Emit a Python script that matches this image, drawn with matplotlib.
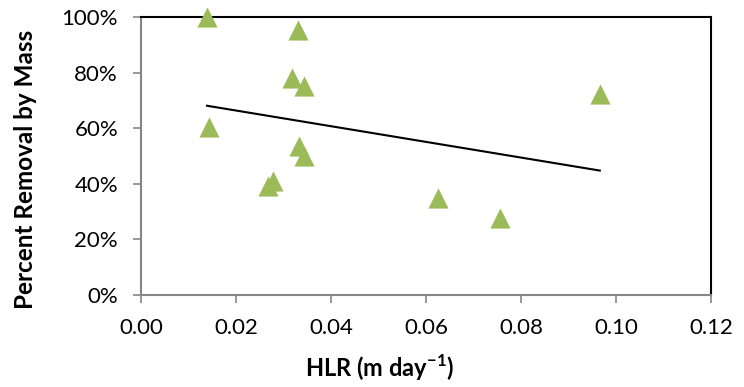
import numpy as np
import matplotlib.pyplot as plt
from matplotlib.ticker import PercentFormatter

# hydraulic loading rate (m/day) and percent removal by mass
hlr = [0.0139, 0.0331, 0.0318, 0.0343, 0.0143, 0.0333, 0.0343, 0.0278, 0.0267, 0.0625, 0.0756, 0.0966]
removal = [100.0, 95.3, 78.0, 75.0, 60.3, 53.5, 50.0, 41.0, 39.0, 35.0, 27.6, 72.3]
xticks = [0.00, 0.02, 0.04, 0.06, 0.08, 0.10, 0.12]
yticks = [0, 20, 40, 60, 80, 100]

plt.rcParams['font.family'] = ['Lato', 'DejaVu Sans']
plt.rcParams['mathtext.fontset'] = 'custom'
plt.rcParams['mathtext.rm'] = 'Lato'
plt.rcParams['mathtext.bf'] = 'Lato:bold'

fig = plt.figure(figsize=(7.44, 3.87), dpi=100)
ax = fig.add_axes([0.1895, 0.2385, 0.7661, 0.7175])

ax.scatter(hlr, removal, marker='^', s=210, color='#9BBB59', zorder=3, clip_on=False, linewidths=0)

# linear trendline over the data range
k, b = np.polyfit(hlr, removal, 1)
xs = np.array([min(hlr), max(hlr)])
ax.plot(xs, k * xs + b, color='black', lw=1.5, zorder=2)

ax.set_xlim(0, 0.12)
ax.set_ylim(0, 100)
ax.set_xticks(xticks)
ax.set_xticklabels(['%.2f' % v for v in xticks])
ax.set_yticks(yticks)
ax.yaxis.set_major_formatter(PercentFormatter(decimals=0))

for side in ['left', 'bottom']:
    ax.spines[side].set_color('#868686')
    ax.spines[side].set_linewidth(1.5)
for side in ['top', 'right']:
    ax.spines[side].set_color('black')
    ax.spines[side].set_linewidth(1.5)
ax.tick_params(direction='out', length=5.5, width=1.2, color='#868686', labelsize=16)
ax.tick_params(axis='x', pad=11)
ax.tick_params(axis='y', pad=11)

# axis titles placed where the original puts them
fig.text(380 / 744, 1 - 377 / 387, 'HLR (m day$^{\\mathbf{-1}}$)', fontsize=17,
         fontweight='bold', ha='center', va='baseline')
fig.text(33 / 744, 1 - 169 / 387, 'Percent Removal by Mass', fontsize=17.5,
         fontweight='bold', rotation=90, rotation_mode='anchor', ha='center', va='baseline')

fig.savefig('out.png', dpi=100)
